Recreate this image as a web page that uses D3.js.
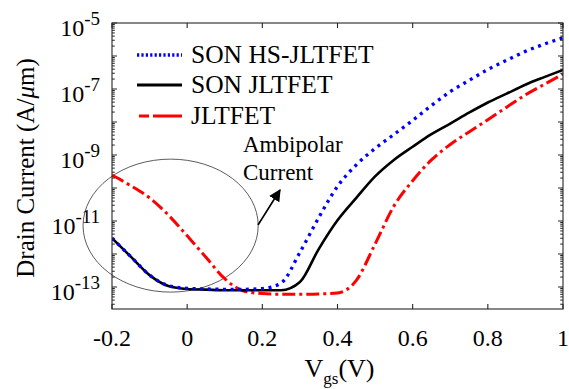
<!DOCTYPE html>
<html>
<head>
<meta charset="utf-8">
<script src="https://cdn.jsdelivr.net/npm/d3@7"></script>
<style>
  html, body { margin: 0; padding: 0; background: #fff; }
  svg { display: block; }
  text { font-family: "Liberation Serif", "Times New Roman", "DejaVu Serif", serif; fill: #000; }
</style>
</head>
<body>
<svg id="chart" width="569" height="389"></svg>
<script>
// Gate voltage sweep (V)
const vgs = [-0.2, -0.15, -0.1, -0.05, 0, 0.05, 0.1, 0.15, 0.2, 0.25, 0.3, 0.35, 0.4,
             0.45, 0.5, 0.55, 0.6, 0.65, 0.7, 0.75, 0.8, 0.85, 0.9, 0.95, 1.0];

// Drain current (A/um) for each device
const sonHsJltfet = [3.02e-12, 8.32e-13, 2.29e-13, 1.10e-13, 9.12e-14, 8.71e-14, 8.51e-14, 8.51e-14,
                     8.91e-14, 1.32e-13, 1.12e-12, 1.26e-11, 1.12e-10, 5.01e-10, 1.58e-9, 4.17e-9,
                     1.12e-8, 3.16e-8, 8.32e-8, 1.82e-7, 3.89e-7, 7.41e-7, 1.38e-6, 2.29e-6, 3.55e-6];
const sonJltfet   = [3.02e-12, 8.32e-13, 2.29e-13, 1.07e-13, 8.71e-14, 8.32e-14, 7.94e-14, 7.94e-14,
                     7.94e-14, 7.94e-14, 1.41e-13, 1.41e-12, 1.05e-11, 5.01e-11, 2.24e-10, 7.08e-10,
                     1.78e-9, 4.27e-9, 8.91e-9, 1.91e-8, 3.89e-8, 7.24e-8, 1.35e-7, 2.29e-7, 3.80e-7];
const jltfet      = [2.45e-10, 1.17e-10, 5.01e-11, 1.51e-11, 3.55e-12, 7.94e-13, 1.78e-13, 7.59e-14,
                     6.31e-14, 6.03e-14, 6.03e-14, 6.17e-14, 6.61e-14, 1.58e-13, 2.00e-12, 2.82e-11,
                     1.66e-10, 7.08e-10, 2.09e-9, 5.01e-9, 1.17e-8, 2.82e-8, 6.61e-8, 1.38e-7, 2.82e-7];

const seriesNames = ["SON HS-JLTFET", "SON JLTFET", "JLTFET"];
const seriesColors = ["#0000ff", "#000000", "#ff0000"];

// Axis ticks
const xTickValues = [-0.2, 0, 0.2, 0.4, 0.6, 0.8, 1];
const xTickLabels = ["-0.2", "0", "0.2", "0.4", "0.6", "0.8", "1"];
const yLabelExponents = [-13, -11, -9, -7, -5];
const yDecades = [-14, -13, -12, -11, -10, -9, -8, -7, -6, -5];

// Ambipolar-current callout (data coordinates)
const calloutEllipse = { v: -0.044, logI: -11.14, rv: 0.233, rDec: 2.015 };
const calloutArrow = { from: [0.1885, -11.12], to: [0.247, -10.06] };
const calloutText = [{ v: 0.1486, logI: -8.91, text: "Ambipolar" },
                     { v: 0.1486, logI: -9.76, text: "Current" }];

const W = 569, H = 389;
const margin = { left: 112, top: 23, right: 6, bottom: 80 };
const innerW = W - margin.left - margin.right;
const innerH = H - margin.top - margin.bottom;

const x = d3.scaleLinear().domain([-0.2, 1]).range([0, innerW]);
const y = d3.scaleLog().domain([Math.pow(10, -13.667), 1e-5]).range([innerH, 0]);

const svg = d3.select("#chart");
const defs = svg.append("defs");
const g = svg.append("g").attr("transform", `translate(${margin.left},${margin.top})`);

defs.append("clipPath").attr("id", "plotClip")
  .append("rect").attr("width", innerW).attr("height", innerH);

const axisColor = "#262626";

// Ellipse around the ambipolar region
const ex = x(calloutEllipse.v), ey = y(Math.pow(10, calloutEllipse.logI));
g.append("ellipse")
  .attr("cx", ex).attr("cy", ey)
  .attr("rx", x(calloutEllipse.v + calloutEllipse.rv) - ex)
  .attr("ry", ey - y(Math.pow(10, calloutEllipse.logI + calloutEllipse.rDec)))
  .attr("fill", "none").attr("stroke", "#4a4a4a").attr("stroke-width", 0.9);

// Curves
const line = d3.line()
  .x(d => x(d[0]))
  .y(d => y(d[1]))
  .curve(d3.curveMonotoneX);

const curveStyles = [
  { dash: "3,4.6", width: 3.3 },
  { dash: null, width: 2.6 },
  { dash: "13,4,3,4", width: 3 }
];
const seriesData = [sonHsJltfet, sonJltfet, jltfet];

const curves = g.append("g").attr("clip-path", "url(#plotClip)");
[2, 1, 0].forEach(i => {
  const pts = vgs.map((v, k) => [v, seriesData[i][k]]);
  curves.append("path")
    .datum(pts)
    .attr("d", line)
    .attr("fill", "none")
    .attr("stroke", seriesColors[i])
    .attr("stroke-width", curveStyles[i].width)
    .attr("stroke-linejoin", "round")
    .attr("stroke-dasharray", curveStyles[i].dash);
});

// Axes box
g.append("rect").attr("width", innerW).attr("height", innerH)
  .attr("fill", "none").attr("stroke", axisColor).attr("stroke-width", 1.1);

// X ticks (bottom and top, pointing inward)
const xt = g.append("g");
xTickValues.forEach((v, i) => {
  const px = x(v);
  xt.append("line").attr("x1", px).attr("x2", px).attr("y1", innerH).attr("y2", innerH - 5)
    .attr("stroke", axisColor).attr("stroke-width", 1.1);
  xt.append("line").attr("x1", px).attr("x2", px).attr("y1", 0).attr("y2", 5)
    .attr("stroke", axisColor).attr("stroke-width", 1.1);
  xt.append("text").attr("x", px).attr("y", innerH + 37)
    .attr("text-anchor", "middle").attr("font-size", 24)
    .text(xTickLabels[i]);
});

// Y ticks: decades and log minor ticks on both sides
const yt = g.append("g");
const [yMin, yMax] = y.domain();
const tickSet = [];
yDecades.forEach(e => {
  for (let m = 1; m <= 9; m++) {
    const val = m * Math.pow(10, e);
    if (val >= yMin && val <= yMax * 1.0001) tickSet.push({ val, major: m === 1 });
  }
});
tickSet.forEach(t => {
  const py = y(t.val);
  const len = t.major ? 5 : 2.8;
  yt.append("line").attr("x1", 0).attr("x2", len).attr("y1", py).attr("y2", py)
    .attr("stroke", axisColor).attr("stroke-width", 1);
  yt.append("line").attr("x1", innerW).attr("x2", innerW - len).attr("y1", py).attr("y2", py)
    .attr("stroke", axisColor).attr("stroke-width", 1);
});

yLabelExponents.forEach(e => {
  const py = y(Math.pow(10, e));
  const t = yt.append("text").attr("x", -12).attr("y", py + 13)
    .attr("text-anchor", "end").attr("font-size", 24);
  t.append("tspan").text("10");
  t.append("tspan").attr("dy", -11).attr("font-size", 19).text("-" + Math.abs(e));
});

// Axis titles
svg.append("text")
  .attr("transform", `translate(34,${margin.top + innerH / 2 + 2}) rotate(-90)`)
  .attr("text-anchor", "middle").attr("font-size", 25)
  .call(t => {
    t.append("tspan").text("Drain Current (A/");
    t.append("tspan").attr("font-style", "italic").text("\u03bc");
    t.append("tspan").text("m)");
  });

svg.append("text")
  .attr("x", margin.left + innerW / 2 + 2).attr("y", 377)
  .attr("text-anchor", "middle").attr("font-size", 26)
  .call(t => {
    t.append("tspan").text("V");
    t.append("tspan").attr("dy", 7).attr("font-size", 17).text("gs");
    t.append("tspan").attr("dy", -7).text("(V)");
  });

// Legend
const legendRows = [55, 85, 116];
const legendDash = ["2.2,2.2", null, "10,4,40"];
const legendWidth = [3.3, 2.8, 3];
const lg = svg.append("g");
seriesNames.forEach((name, i) => {
  lg.append("line")
    .attr("x1", i === 2 ? 139 : 137).attr("x2", 182)
    .attr("y1", legendRows[i]).attr("y2", legendRows[i])
    .attr("stroke", seriesColors[i]).attr("stroke-width", legendWidth[i])
    .attr("stroke-dasharray", legendDash[i]);
  lg.append("text").attr("x", 191).attr("y", legendRows[i] + 8)
    .attr("font-size", 25.5).text(name);
});

// Callout arrow and text
defs.append("marker").attr("id", "arrowHead")
  .attr("viewBox", "0 0 10 10").attr("refX", 9).attr("refY", 5)
  .attr("markerWidth", 12).attr("markerHeight", 12)
  .attr("markerUnits", "userSpaceOnUse").attr("orient", "auto")
  .append("path").attr("d", "M0,0 L10,5 L0,10 Z").attr("fill", "#000");

g.append("line")
  .attr("x1", x(calloutArrow.from[0])).attr("y1", y(Math.pow(10, calloutArrow.from[1])))
  .attr("x2", x(calloutArrow.to[0])).attr("y2", y(Math.pow(10, calloutArrow.to[1])))
  .attr("stroke", "#000").attr("stroke-width", 1.6)
  .attr("marker-end", "url(#arrowHead)");

calloutText.forEach(c => {
  g.append("text").attr("x", x(c.v)).attr("y", y(Math.pow(10, c.logI)))
    .attr("font-size", 23).text(c.text);
});
</script>
</body>
</html>
